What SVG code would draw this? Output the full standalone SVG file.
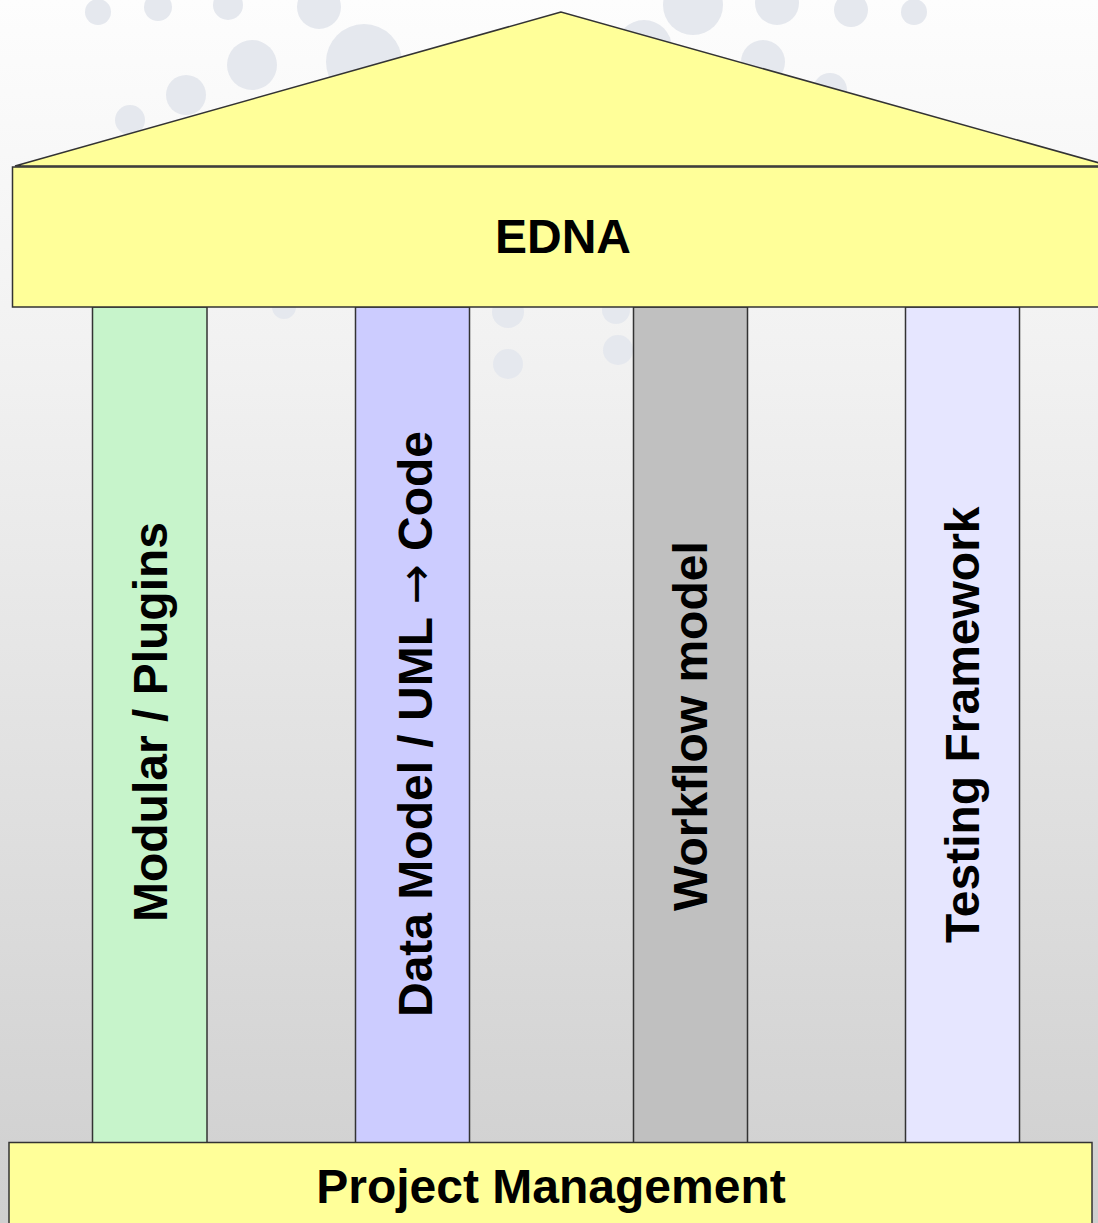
<svg xmlns="http://www.w3.org/2000/svg" width="1098" height="1223" viewBox="0 0 1098 1223">
  <defs>
    <linearGradient id="bg" x1="0" y1="0" x2="0" y2="1">
      <stop offset="0" stop-color="#fdfdfd"/>
      <stop offset="0.3" stop-color="#f1f1f1"/>
      <stop offset="1" stop-color="#cfcfcf"/>
    </linearGradient>
  </defs>
  <style>
    .dot { fill: #e5e8ee; }
    .part { stroke: #333333; stroke-width: 1.5; }
    .yellow { fill: #ffff99; }
    .lbl { font-family: "Liberation Sans", Arial, sans-serif; font-weight: bold; font-size: 48px; fill: #000000; }
    .arrow { font-family: "DejaVu Sans", sans-serif; font-weight: normal; }
  </style>
  <rect x="0" y="0" width="1098" height="1223" fill="url(#bg)"/>
  <g id="decoration">
    <circle class="dot" cx="98" cy="12" r="13"/>
    <circle class="dot" cx="158" cy="7" r="14"/>
    <circle class="dot" cx="228" cy="5" r="15"/>
    <circle class="dot" cx="319" cy="7" r="22"/>
    <circle class="dot" cx="252" cy="65" r="25"/>
    <circle class="dot" cx="364" cy="62" r="38"/>
    <circle class="dot" cx="186" cy="95" r="20"/>
    <circle class="dot" cx="130" cy="120" r="15"/>
    <circle class="dot" cx="693" cy="5" r="30"/>
    <circle class="dot" cx="777" cy="3" r="22"/>
    <circle class="dot" cx="851" cy="10" r="17"/>
    <circle class="dot" cx="914" cy="12" r="13"/>
    <circle class="dot" cx="763" cy="62" r="22"/>
    <circle class="dot" cx="830" cy="90" r="17"/>
    <circle class="dot" cx="644" cy="48" r="28"/>
    <circle class="dot" cx="284" cy="307" r="12"/>
    <circle class="dot" cx="508" cy="312" r="16"/>
    <circle class="dot" cx="508" cy="364" r="15"/>
    <circle class="dot" cx="616" cy="310" r="14"/>
    <circle class="dot" cx="618" cy="350" r="15"/>
  </g>
  <g id="columns">
    <g id="col-modular">
      <rect class="part" x="92.5" y="307" width="114.5" height="836" fill="#c7f4cb" stroke="#555555"/>
      <text class="lbl" transform="translate(167,922) rotate(-90)">Modular / Plugins</text>
    </g>
    <g id="col-datamodel">
      <rect class="part" x="355.5" y="307" width="114" height="836" fill="#ccccff"/>
      <text class="lbl" transform="translate(432,1017) rotate(-90)">Data Model / UML <tspan class="arrow">→</tspan> Code</text>
    </g>
    <g id="col-workflow">
      <rect class="part" x="633.5" y="307" width="114" height="836" fill="#c0c0c0"/>
      <text class="lbl" transform="translate(707,911) rotate(-90)">Workflow model</text>
    </g>
    <g id="col-testing">
      <rect class="part" x="905.5" y="307" width="114" height="836" fill="#e6e6ff"/>
      <text class="lbl" transform="translate(979,943) rotate(-90)">Testing Framework</text>
    </g>
  </g>
  <g id="roof">
    <polygon class="part yellow" points="561,12 15,166 1110,166"/>
  </g>
  <g id="edna">
    <rect class="part yellow" x="12.5" y="167" width="1100" height="140"/>
    <text class="lbl" x="563" y="253" text-anchor="middle">EDNA</text>
  </g>
  <g id="project-management">
    <rect class="part yellow" x="9" y="1142.5" width="1083" height="100" stroke="#555555"/>
    <text class="lbl" x="551" y="1203" text-anchor="middle">Project Management</text>
  </g>
</svg>
